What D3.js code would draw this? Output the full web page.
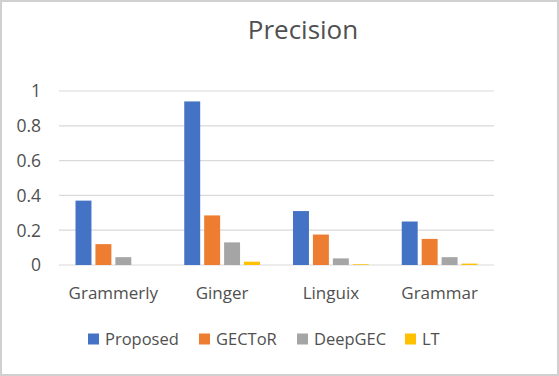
<!DOCTYPE html>
<html>
<head>
<meta charset="utf-8">
<script src="https://cdn.jsdelivr.net/npm/d3@7"></script>
<style>
  body { margin: 0; background: #fff; }
  text { font-family: "Open Sans", "Liberation Sans", sans-serif; fill: #505050; }
</style>
</head>
<body>
<svg id="chart" width="559" height="376"></svg>
<script>
const categories = ["Grammerly", "Ginger", "Linguix", "Grammar"];
const seriesNames = ["Proposed", "GECToR", "DeepGEC", "LT"];
const proposed = [0.37, 0.94, 0.31, 0.25];
const gector = [0.12, 0.285, 0.175, 0.15];
const deepgec = [0.045, 0.13, 0.038, 0.045];
const lt = [0, 0.019, 0.004, 0.008];
const yTicks = [0, 0.2, 0.4, 0.6, 0.8, 1];
const colors = ["#4472C4", "#ED7D31", "#A5A5A5", "#FFC000"];

const seriesValues = [proposed, gector, deepgec, lt];
const data = categories.map((c, i) => ({
  cat: c,
  vals: seriesNames.map((s, j) => ({series: s, value: seriesValues[j][i]}))
}));

const svg = d3.select("#chart");
const plot = {left: 59, right: 494, top: 91, bottom: 265};

svg.append("rect")
  .attr("x", 1).attr("y", 1).attr("width", 557).attr("height", 374)
  .attr("fill", "#fff").attr("stroke", "#d0d0d0").attr("stroke-width", 2);

const x0 = d3.scaleBand().domain(categories).range([plot.left, plot.right]);
const x1 = d3.scaleBand().domain(seriesNames)
  .range([16.5, x0.bandwidth() - 16.5]).paddingInner(0.2);
const y = d3.scaleLinear().domain([0, 1]).range([plot.bottom, plot.top]);
const color = d3.scaleOrdinal().domain(seriesNames).range(colors);

// gridlines
svg.append("g").selectAll("line")
  .data(yTicks)
  .join("line")
  .attr("x1", plot.left).attr("x2", plot.right)
  .attr("y1", d => y(d)).attr("y2", d => y(d))
  .attr("stroke", "#d9d9d9").attr("stroke-width", 1.2);

// y labels
svg.append("g").selectAll("text")
  .data(yTicks)
  .join("text")
  .attr("x", 41).attr("y", d => y(d))
  .attr("dy", "0.36em")
  .attr("text-anchor", "end")
  .attr("font-size", 17.5)
  .text(d => d);

// bars
const groups = svg.append("g").selectAll("g")
  .data(data)
  .join("g")
  .attr("transform", d => `translate(${x0(d.cat)},0)`);

groups.selectAll("rect")
  .data(d => d.vals)
  .join("rect")
  .attr("x", d => x1(d.series))
  .attr("y", d => y(d.value))
  .attr("width", x1.bandwidth())
  .attr("height", d => y(0) - y(d.value))
  .attr("fill", d => color(d.series));

// category labels
svg.append("g").selectAll("text")
  .data(categories)
  .join("text")
  .attr("x", d => x0(d) + x0.bandwidth() / 2)
  .attr("y", 299)
  .attr("text-anchor", "middle")
  .attr("font-size", 17)
  .text(d => d);

// title
svg.append("text")
  .attr("x", 303).attr("y", 39)
  .attr("text-anchor", "middle")
  .attr("font-size", 26)
  .text("Precision");

// legend
const legendX = [88, 199, 297, 405];
const legend = svg.append("g").selectAll("g")
  .data(seriesNames)
  .join("g")
  .attr("transform", (d, i) => `translate(${legendX[i]},339)`);

legend.append("rect")
  .attr("x", 0).attr("y", -5.5)
  .attr("width", 11).attr("height", 11)
  .attr("fill", d => color(d));

legend.append("text")
  .attr("x", 17).attr("y", 0)
  .attr("dy", "0.35em")
  .attr("font-size", 16.5)
  .text(d => d);
</script>
</body>
</html>
